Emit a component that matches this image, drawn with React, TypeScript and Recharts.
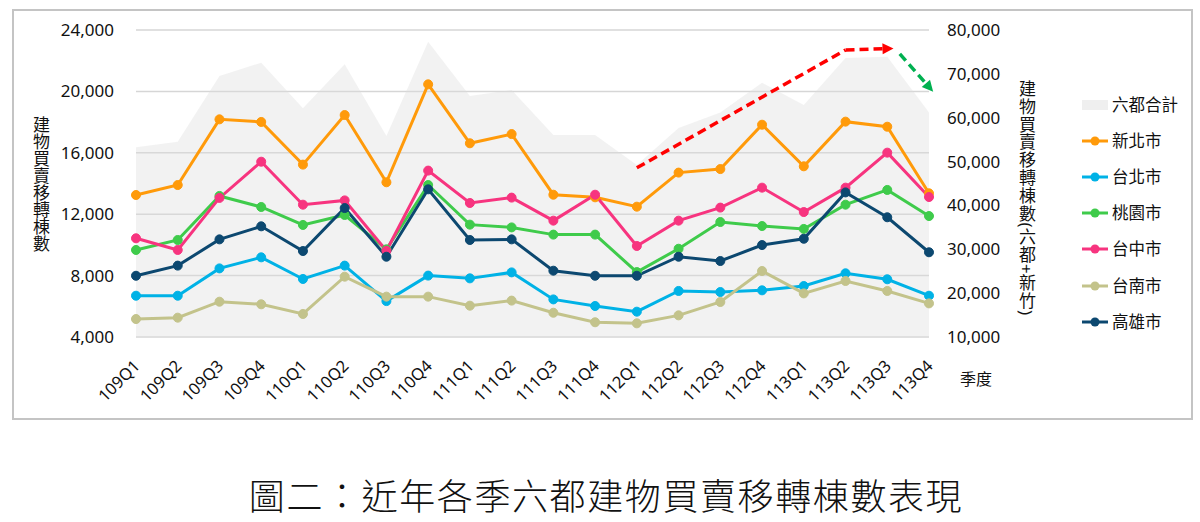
import { ComposedChart, Area, Line, XAxis, YAxis, CartesianGrid, ReferenceLine } from 'recharts';

const quarters = [
  '109Q1', '109Q2', '109Q3', '109Q4', '110Q1', '110Q2', '110Q3', '110Q4', '111Q1', '111Q2',
  '111Q3', '111Q4', '112Q1', '112Q2', '112Q3', '112Q4', '113Q1', '113Q2', '113Q3', '113Q4',
];

// 六都合計 (right axis)
const sixTotal = [53250, 54540, 69510, 72550, 62140, 72180, 55830, 77340, 64950, 66320, 56060, 56060, 49200, 57650, 61200, 68000, 62900, 73600, 73900, 61200];

const newTaipei = [13250, 13900, 18180, 18010, 15230, 18460, 14080, 20460, 16620, 17220, 13270, 13100, 12490, 14710, 14940, 17830, 15120, 18030, 17700, 13360];
const taipei = [6690, 6690, 8470, 9190, 7780, 8650, 6340, 8000, 7820, 8210, 6450, 6020, 5650, 7000, 6930, 7040, 7320, 8150, 7760, 6690];
const taoyuan = [9670, 10320, 13190, 12470, 11300, 11950, 9710, 13900, 11320, 11140, 10670, 10670, 8230, 9750, 11490, 11230, 11040, 12620, 13580, 11880];
const taichung = [10430, 9670, 13060, 15420, 12620, 12900, 9620, 14840, 12730, 13080, 11580, 13270, 9930, 11580, 12430, 13730, 12140, 13730, 16010, 13120];
const tainan = [5170, 5260, 6300, 6130, 5500, 7930, 6630, 6630, 6040, 6370, 5580, 4960, 4890, 5410, 6280, 8300, 6840, 7650, 7000, 6190];
const kaohsiung = [7990, 8650, 10360, 11210, 9600, 12400, 9230, 13620, 10320, 10360, 8320, 7990, 7990, 9230, 8950, 9990, 10400, 13420, 11800, 9520];

const leftTicks = [4000, 8000, 12000, 16000, 20000, 24000];
const rightTicks = [10000, 20000, 30000, 40000, 50000, 60000, 70000, 80000];

// trend arrows, in (quarter index, left-axis value)
const redTrend = [
  { x: 12, y: 15020 },
  { x: 17, y: 22700 },
  { x: 18.15, y: 22800 },
];
const greenTrend = [
  { x: 18.3, y: 22440 },
  { x: 19.1, y: 19980 },
];

const cities = [
  { key: 'newTaipei', name: '新北市', color: '#FF9A0A', values: newTaipei },
  { key: 'taipei', name: '台北市', color: '#00B2E6', values: taipei },
  { key: 'taoyuan', name: '桃園市', color: '#3FCB4B', values: taoyuan },
  { key: 'taichung', name: '台中市', color: '#F7347F', values: taichung },
  { key: 'tainan', name: '台南市', color: '#C3C38B', values: tainan },
  { key: 'kaohsiung', name: '高雄市', color: '#0C4870', values: kaohsiung },
];

const chartData = quarters.map((q, i) => {
  const row: any = { quarter: q, total: sixTotal[i] };
  cities.forEach((c) => { row[c.key] = c.values[i]; });
  return row;
});

const FONT = "'Noto Sans', 'Noto Sans CJK TC', sans-serif";

const fmt = (v: number) => v.toLocaleString('en-US');

const QuarterTick = (props: any) => {
  const { x, y, payload } = props;
  const tx = x + 5;
  const ty = y + 22;
  return (
    <text x={tx} y={ty} transform={`rotate(-45, ${tx}, ${ty})`} textAnchor="end" fontSize={16.5} fontFamily={FONT} fill="#111">
      {payload.value}
    </text>
  );
};

const arrowShape = (color: string, head: boolean) => (p: any) => {
  const { x1, y1, x2, y2 } = p;
  const dx = x2 - x1;
  const dy = y2 - y1;
  const len = Math.sqrt(dx * dx + dy * dy) || 1;
  const ux = dx / len;
  const uy = dy / len;
  const hl = head ? 11 : 0;
  const ex = x2 - ux * hl;
  const ey = y2 - uy * hl;
  const hw = 5.5;
  return (
    <g>
      <line x1={x1} y1={y1} x2={ex} y2={ey} stroke={color} strokeWidth={3.5} strokeDasharray="9 5" />
      {head && (
        <polygon
          points={`${x2},${y2} ${ex - uy * hw},${ey + ux * hw} ${ex + uy * hw},${ey - ux * hw}`}
          fill={color}
        />
      )}
    </g>
  );
};

const LegendSwatch = ({ color, area }: { color: string; area?: boolean }) => (
  <svg width={26} height={12} style={{ display: 'block' }}>
    {area ? (
      <rect x={0} y={1} width={26} height={10} fill="#efefef" />
    ) : (
      <g>
        <line x1={0} y1={6} x2={26} y2={6} stroke={color} strokeWidth={3} />
        <circle cx={13} cy={6} r={4.5} fill={color} />
      </g>
    )}
  </svg>
);

const legendItems = [{ name: '六都合計', color: '#efefef', area: true }, ...cities.map((c) => ({ name: c.name, color: c.color, area: false }))];
const legendY = [105, 141, 177, 213, 249, 286, 322];

export default function App() {
  return (
    <div style={{ position: 'absolute', left: 0, top: 0, width: 1200, height: 522, background: '#fff', fontFamily: FONT, color: '#111' }}>
      <div style={{ position: 'absolute', left: 12, top: 9, width: 1181, height: 411, border: '2px solid #c4c4c4', boxSizing: 'border-box' }} />

      <div style={{ position: 'absolute', left: 0, top: 0 }}>
        <ComposedChart width={1200} height={420} data={chartData} margin={{ top: 30, right: 171, left: 0, bottom: 23 }}>
          <CartesianGrid yAxisId="left" xAxisId={0} vertical={false} stroke="#d6d6d6" strokeWidth={1.5} />
          <XAxis dataKey="quarter" xAxisId={0} interval={0} axisLine={false} tickLine={false} height={60} tick={<QuarterTick />} />
          <XAxis xAxisId="ann" type="number" domain={[-0.5, 19.5]} allowDataOverflow hide />
          <YAxis
            yAxisId="left"
            orientation="left"
            width={136}
            domain={[4000, 24000]}
            ticks={leftTicks}
            tickFormatter={fmt}
            axisLine={false}
            tickLine={false}
            tickMargin={16}
            tick={{ fontSize: 17, fill: '#111', fontFamily: FONT }}
          />
          <YAxis
            yAxisId="right"
            orientation="right"
            width={100}
            domain={[10000, 80000]}
            ticks={rightTicks}
            tickFormatter={fmt}
            axisLine={false}
            tickLine={false}
            tickMargin={12}
            tick={{ fontSize: 17, fill: '#111', fontFamily: FONT, textAnchor: 'start' }}
          />
          <Area
            yAxisId="right"
            xAxisId={0}
            type="linear"
            dataKey="total"
            name="六都合計"
            fill="#dcdcdc"
            fillOpacity={0.38}
            stroke="none"
            isAnimationActive={false}
          />
          <ReferenceLine
            xAxisId="ann"
            yAxisId="left"
            ifOverflow="visible"
            segment={[redTrend[0], redTrend[1]]}
            shape={arrowShape('#FF0000', false)}
          />
          <ReferenceLine
            xAxisId="ann"
            yAxisId="left"
            ifOverflow="visible"
            segment={[redTrend[1], redTrend[2]]}
            shape={arrowShape('#FF0000', true)}
          />
          <ReferenceLine
            xAxisId="ann"
            yAxisId="left"
            ifOverflow="visible"
            segment={[greenTrend[0], greenTrend[1]]}
            shape={arrowShape('#00B050', true)}
          />
          {cities.map((c) => (
            <Line
              key={c.key}
              yAxisId="left"
              xAxisId={0}
              type="linear"
              dataKey={c.key}
              name={c.name}
              stroke={c.color}
              strokeWidth={3}
              dot={{ r: 4.5, fill: c.color, stroke: c.color, strokeWidth: 1 }}
              isAnimationActive={false}
            />
          ))}
        </ComposedChart>
      </div>

      {/* axis titles */}
      <div style={{ position: 'absolute', left: 31, top: 116, writingMode: 'vertical-rl', fontSize: 17, lineHeight: '18px', width: 18 }}>
        建物買賣移轉棟數
      </div>
      <div style={{ position: 'absolute', left: 1017, top: 80, writingMode: 'vertical-rl', fontSize: 17, lineHeight: '18px', width: 18, letterSpacing: 0.8 }}>
        建物買賣移轉棟數(六都+新竹)
      </div>
      <div style={{ position: 'absolute', left: 960, top: 368, fontSize: 16, lineHeight: '22px' }}>季度</div>

      {/* legend */}
      {legendItems.map((it, i) => (
        <div key={it.name} style={{ position: 'absolute', left: 1082, top: legendY[i] - 12, height: 24, display: 'flex', alignItems: 'center' }}>
          <LegendSwatch color={it.color} area={it.area} />
          <span style={{ marginLeft: 4, fontSize: 16.5, lineHeight: '24px' }}>{it.name}</span>
        </div>
      ))}

      <div style={{ position: 'absolute', left: 0, width: 1212, top: 472, textAlign: 'center', fontSize: 36, fontWeight: 300, letterSpacing: 1.6, lineHeight: '44px', fontFamily: "'Noto Sans CJK TC', serif" }}>
        圖二：近年各季六都建物買賣移轉棟數表現
      </div>
    </div>
  );
}
